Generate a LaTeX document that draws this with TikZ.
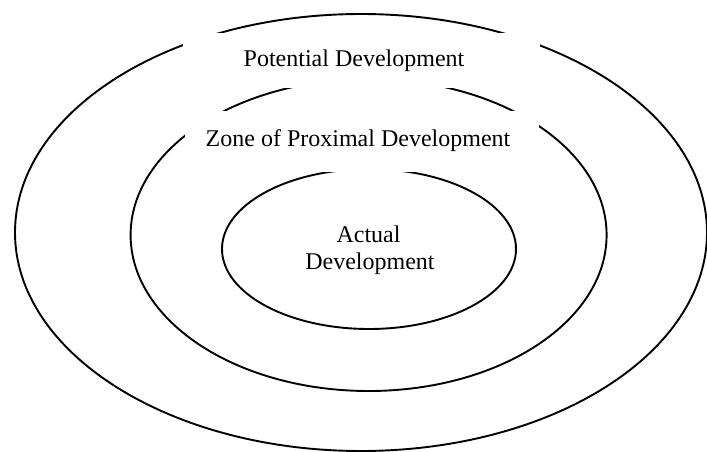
\documentclass[tikz,border=0pt]{standalone}
\usepackage{fontspec}
\setmainfont{Liberation Serif}
\begin{document}
\begin{tikzpicture}[x=1pt,y=-1pt,
  ring/.style={draw=black,line width=1.9pt},
  cover/.style={fill=white},
  label/.style={anchor=base,inner sep=0pt,font=\fontsize{24}{26}\selectfont}]
\useasboundingbox[fill=white] (0,0) rectangle (707,452);
% three nested zones
\draw[ring] (361,232.5) ellipse [x radius=346pt, y radius=218.5pt];
\draw[ring] (368.6,235) ellipse [x radius=238pt, y radius=156pt];
\draw[ring] (369,249) ellipse [x radius=147pt, y radius=80pt];
% white bands behind the zone titles
\path[cover] (183,33) rectangle (540,88);
\path[cover] (185,111) rectangle (539,172);
% titles
\node[label] (pot) at (354,66.7) {Potential Development};
\node[label] (zpd) at (358,146.7) {Zone of Proximal Development};
\node[label] (act1) at (368.5,242.7) {Actual};
\node[label] (act2) at (370,269) {Development};
\end{tikzpicture}
\end{document}
